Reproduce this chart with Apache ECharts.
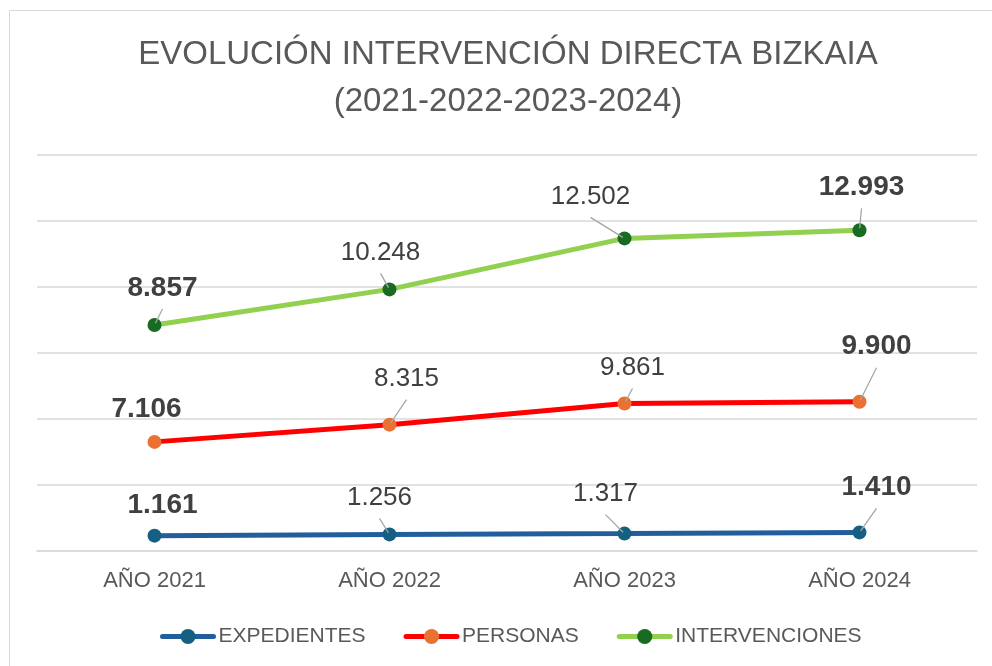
<!DOCTYPE html>
<html>
<head>
<meta charset="utf-8">
<script src="https://cdn.jsdelivr.net/npm/echarts@6/dist/echarts.min.js"></script>
<style>
  html, body { margin: 0; padding: 0; background: #fff; }
  #chart { width: 992px; height: 666px; }
</style>
</head>
<body>
<div id="chart"></div>
<script>
  var years = ['AÑO 2021', 'AÑO 2022', 'AÑO 2023', 'AÑO 2024'];
  var expedientes = [1161, 1256, 1317, 1410];
  var personas = [7106, 8315, 9861, 9900];
  var intervenciones = [8857, 10248, 12502, 12993];
  var seriesNames = ['EXPEDIENTES', 'PERSONAS', 'INTERVENCIONES'];
  var boldPoints = [0, 3];

  // centro de cada etiqueta respecto al marcador (px)
  var labelOffset = [
    [[8, -30], [-10, -37], [-19, -40], [17, -45]],
    [[-8, -33], [17, -46], [8, -36], [17, -55]],
    [[8, -37], [-9, -37], [-34, -42], [2, -43]]
  ];

  var lineColors = ['#225E9B', '#FF0000', '#92D050'];
  var markerColors = ['#156082', '#E97132', '#196B24'];
  var font = 'Liberation Sans, Arial, sans-serif';

  function fmt(v) {
    return String(v).replace(/\B(?=(\d{3})+(?!\d))/g, '.');
  }

  function buildSeries(idx, values) {
    return {
      name: seriesNames[idx],
      type: 'line',
      stack: 'total',
      symbol: 'circle',
      symbolSize: 14,
      lineStyle: { color: lineColors[idx], width: 5 },
      itemStyle: { color: markerColors[idx] },
      label: {
        show: true,
        position: 'inside',
        fontSize: 26,
        fontFamily: font,
        color: '#404040',
        formatter: function (p) { return fmt(p.value); }
      },
      labelLayout: function (p) {
        var s = labelOffset[idx][p.dataIndex];
        return { dx: s[0], dy: s[1] };
      },
      data: values.map(function (v, i) {
        var bold = boldPoints.indexOf(i) >= 0;
        return {
          value: v,
          label: { fontWeight: bold ? 'bold' : 'normal', fontSize: bold ? 28 : 26, color: '#404040' }
        };
      })
    };
  }

  // lineas guia: desde el pie de la etiqueta hasta el marcador
  var leaderData = [];
  [expedientes, personas, intervenciones].forEach(function (arr, s) {
    arr.forEach(function (v, i) {
      var total = expedientes[i];
      if (s > 0) total += personas[i];
      if (s > 1) total += intervenciones[i];
      var o = labelOffset[s][i];
      var gy = o[1] + 21;
      if (Math.sqrt(o[0] * o[0] + gy * gy) >= 16) {
        leaderData.push([i, total, o[0], gy]);
      }
    });
  });

  var chart = echarts.init(document.getElementById('chart'));
  chart.setOption({
    animation: false,
    backgroundColor: '#fff',
    title: {
      text: 'EVOLUCIÓN INTERVENCIÓN DIRECTA BIZKAIA\n(2021-2022-2023-2024)',
      left: 508,
      top: 31,
      padding: 0,
      textAlign: 'center',
      textStyle: {
        fontFamily: font,
        fontSize: 33,
        fontWeight: 'normal',
        color: '#595959',
        lineHeight: 47
      }
    },
    graphic: [{
      type: 'rect',
      shape: { x: 9.5, y: 10.5, width: 1200, height: 1000 },
      style: { fill: 'none', stroke: '#D9D9D9', lineWidth: 1 },
      silent: true
    }],
    legend: {
      bottom: 19,
      left: 160,
      padding: 0,
      itemWidth: 51,
      itemHeight: 19,
      itemGap: 38,
      lineStyle: { width: 5, cap: 'round' },
      textStyle: { fontFamily: font, fontSize: 21, color: '#595959' },
      data: seriesNames
    },
    grid: { left: 37, right: 15, top: 155, bottom: 115 },
    xAxis: {
      type: 'category',
      data: years,
      axisLine: { lineStyle: { color: '#D9D9D9', width: 1.5 } },
      axisTick: { show: false },
      axisLabel: { fontFamily: font, fontSize: 22, color: '#595959', margin: 19 }
    },
    yAxis: {
      type: 'value',
      min: 0,
      max: 30000,
      interval: 5000,
      axisLabel: { show: false },
      axisLine: { show: false },
      axisTick: { show: false },
      splitLine: { lineStyle: { color: '#D9D9D9', width: 1.5 } }
    },
    series: [
      buildSeries(0, expedientes),
      buildSeries(1, personas),
      buildSeries(2, intervenciones),
      {
        type: 'custom',
        silent: true,
        z: 5,
        data: leaderData,
        renderItem: function (params, api) {
          var p = api.coord([api.value(0), api.value(1)]);
          var sx = p[0] + api.value(2);
          var sy = p[1] + api.value(3);
          var vx = sx - p[0], vy = sy - p[1];
          var len = Math.sqrt(vx * vx + vy * vy);
          return {
            type: 'line',
            shape: { x1: sx, y1: sy, x2: p[0] + vx / len * 2, y2: p[1] + vy / len * 2 },
            style: { stroke: '#A6A6A6', lineWidth: 1.3 }
          };
        }
      }
    ]
  });
</script>
</body>
</html>
